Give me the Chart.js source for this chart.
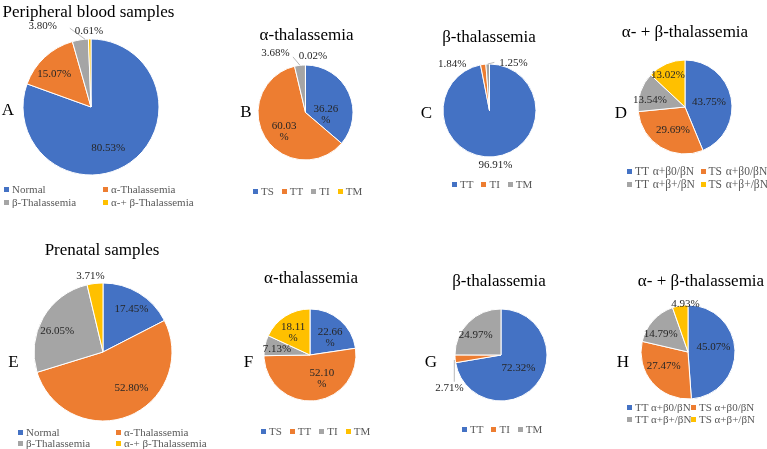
<!DOCTYPE html>
<html>
<head>
<meta charset="utf-8">
<script src="https://cdn.jsdelivr.net/npm/chart.js@4.4.1/dist/chart.umd.min.js"></script>
<style>
  html, body { margin: 0; padding: 0; background: #fff; }
  #fig { position: relative; width: 767px; height: 449px; overflow: hidden;
         font-family: 'Liberation Serif', 'Times New Roman', serif; }
  .box { position: absolute; }
  .title { position: absolute; width: 300px; text-align: center; font-size: 17px;
           line-height: 20px; color: #000; white-space: nowrap; }
  .letter { position: absolute; width: 30px; text-align: center; font-size: 17px;
            line-height: 20px; color: #000; }
  .lg { position: absolute; font-size: 11px; line-height: 13px; color: #595959; white-space: nowrap; }
  .lg .it { position: absolute; white-space: nowrap; }
  .lg .row span.it { position: static; margin-right: 8px; }
  .lg .m { display: inline-block; width: 5px; height: 5px; margin-right: 3px; vertical-align: 1px; }
</style>
</head>
<body>
<div id="fig"></div>
<script>
// categories
var groupLabels = ['Normal', 'α-Thalassemia', 'β-Thalassemia', 'α-+ β-Thalassemia'];
var alphaLabels = ['TS', 'TT', 'TI', 'TM'];
var betaLabels = ['TT', 'TI', 'TM'];
var comboLabels = ['TT α+β0/βN', 'TS α+β0/βN', 'TT α+β+/βN', 'TS α+β+/βN'];

// percentages
var peripheralGroups = [80.53, 15.07, 3.80, 0.61];
var peripheralAlpha = [36.26, 60.03, 3.68, 0.02];
var peripheralBeta = [96.91, 1.84, 1.25];
var peripheralCombo = [43.75, 29.69, 13.54, 13.02];
var prenatalGroups = [17.45, 52.80, 26.05, 3.71];
var prenatalAlpha = [22.66, 52.10, 7.13, 18.11];
var prenatalBeta = [72.32, 2.71, 24.97];
var prenatalCombo = [45.07, 27.47, 14.79, 4.93];

var colors = ['#4472C4', '#ED7D31', '#A5A5A5', '#FFC000'];

// layout of each panel; place = [radius factor, angle shift from slice middle (deg), wrap, leader]
var panels = [
  { letter: 'A', title: 'Peripheral blood samples', labels: groupLabels, data: peripheralGroups,
    cx: 91, cy: 107, r: 68, tx: 88.5, ty: 12, lx: 8, ly: 110,
    legend: { x: 4, y: 189, cols: 2, colW: 99, rowH: 13 },
    place: [[0.65, 12], [0.73, -5], [1.38, -22, false, [[1, 4], [1.2, -6]]], [1.12, -0.5]] },
  { letter: 'B', title: 'α-thalassemia', labels: alphaLabels, data: peripheralAlpha,
    cx: 305.5, cy: 112.5, r: 47.5, tx: 306.5, ty: 35, lx: 246, ly: 112,
    legend: { x: 253, y: 191 },
    place: [[0.43, 30, true], [0.61, -11, true], [1.41, -20, false, [[1, 0], [1.2, -6]]], [1.2, 7.6]] },
  { letter: 'C', title: 'β-thalassemia', labels: betaLabels, data: peripheralBeta,
    cx: 489, cy: 110.5, r: 46.5, tx: 489, ty: 37, lx: 426.5, ly: 113,
    legend: { x: 452, y: 184 },
    place: [[1.18, -0.7], [1.28, -31], [1.14, 29, false, [[1, 0], [1.04, 8]]]] },
  { letter: 'D', title: 'α- + β-thalassemia', labels: comboLabels, data: peripheralCombo,
    cx: 685, cy: 106.5, r: 47, tx: 685, ty: 32, lx: 621, ly: 113,
    legend: { x: 627, y: 171, cols: 2, colW: 73.5, rowH: 13.3, font: 11.5, wordGap: 1 },
    place: [[0.52, 0.6], [0.56, -4], [0.76, -8.3], [0.76, -5]] },
  { letter: 'E', title: 'Prenatal samples', labels: groupLabels, data: prenatalGroups,
    cx: 102.5, cy: 352, r: 69, tx: 102, ty: 250, lx: 13.5, ly: 362,
    legend: { x: 18, y: 432, cols: 2, colW: 98, rowH: 11 },
    place: [[0.75, 2], [0.67, -16], [0.73, -5], [1.12, -2.6]] },
  { letter: 'F', title: 'α-thalassemia', labels: alphaLabels, data: prenatalAlpha,
    cx: 310, cy: 354.5, r: 46, tx: 311, ty: 278, lx: 248.5, ly: 362,
    legend: { x: 261, y: 431 },
    place: [[0.58, 8, true], [0.57, -22, true], [0.73, -2.5], [0.61, -4.4, true]] },
  { letter: 'G', title: 'β-thalassemia', labels: betaLabels, data: prenatalBeta,
    cx: 500.5, cy: 355, r: 46, tx: 499, ty: 281, lx: 431, ly: 362,
    legend: { x: 462, y: 429 },
    place: [[0.47, -3.6], [1.33, -28, false, [[1.02, -1.3], [1.17, -25]]], [0.7, -7]] },
  { letter: 'H', title: 'α- + β-thalassemia', labels: comboLabels, data: prenatalCombo,
    cx: 687.5, cy: 351.5, r: 47, tx: 701, ty: 281, lx: 623, ly: 362,
    legend: { x: 627, y: 407, cols: 2, colW: 64, rowH: 12, font: 11 },
    place: [[0.55, -8], [0.6, 10], [0.7, -8], [1.03, 6.6]] }
];

// percentage labels on or beside each slice
var sliceLabels = {
  id: 'sliceLabels',
  afterDatasetsDraw: function (chart, args, opts) {
    var ctx = chart.ctx;
    var meta = chart.getDatasetMeta(0);
    var values = chart.data.datasets[0].data;
    ctx.save();
    ctx.font = '11px "Liberation Serif", "Times New Roman", serif';
    ctx.fillStyle = '#262626';
    ctx.textAlign = 'center';
    ctx.textBaseline = 'middle';
    meta.data.forEach(function (arc, i) {
      var p = arc.getProps(['x', 'y', 'startAngle', 'endAngle', 'outerRadius'], true);
      var mid = (p.startAngle + p.endAngle) / 2;
      var at = function (f, dA) {
        var a = mid + dA * Math.PI / 180;
        return [p.x + Math.cos(a) * p.outerRadius * f, p.y + Math.sin(a) * p.outerRadius * f];
      };
      var pl = opts.place[i];
      var pos = at(pl[0], pl[1]);
      var txt = values[i].toFixed(2);
      if (pl[2]) {
        ctx.fillText(txt, pos[0], pos[1] - 5.5);
        ctx.fillText('%', pos[0], pos[1] + 5.5);
      } else {
        ctx.fillText(txt + '%', pos[0], pos[1]);
      }
      if (pl[3]) {
        var a0 = at(pl[3][0][0], pl[3][0][1]);
        var a1 = at(pl[3][1][0], pl[3][1][1]);
        ctx.strokeStyle = '#A6A6A6';
        ctx.lineWidth = 0.8;
        ctx.beginPath();
        ctx.moveTo(a0[0], a0[1]);
        ctx.lineTo(a1[0], a1[1]);
        ctx.stroke();
      }
    });
    ctx.restore();
  }
};

var fig = document.getElementById('fig');

function addDiv(cls, html, left, top) {
  var d = document.createElement('div');
  d.className = cls;
  d.innerHTML = html;
  d.style.left = left + 'px';
  d.style.top = top + 'px';
  fig.appendChild(d);
  return d;
}

panels.forEach(function (pn) {
  var S = Math.round(2 * pn.r + 90);
  var box = document.createElement('div');
  box.className = 'box';
  box.style.left = (pn.cx - S / 2) + 'px';
  box.style.top = (pn.cy - S / 2) + 'px';
  box.style.width = S + 'px';
  box.style.height = S + 'px';
  var cv = document.createElement('canvas');
  box.appendChild(cv);
  fig.appendChild(box);

  new Chart(cv, {
    type: 'pie',
    data: {
      labels: pn.labels,
      datasets: [{
        data: pn.data,
        backgroundColor: colors.slice(0, pn.data.length),
        borderColor: '#ffffff',
        borderWidth: 1,
        radius: pn.r
      }]
    },
    options: {
      responsive: true,
      maintainAspectRatio: false,
      animation: false,
      events: [],
      layout: { padding: 0 },
      plugins: {
        legend: { display: false },
        tooltip: { enabled: false },
        sliceLabels: { place: pn.place }
      }
    },
    plugins: [sliceLabels]
  });
});

// titles, panel letters and legends
panels.forEach(function (pn) {
  addDiv('title', pn.title, pn.tx - 150, pn.ty - 10);
  addDiv('letter', pn.letter, pn.lx - 15, pn.ly - 10);

  var lg = pn.legend;
  var el = addDiv('lg', '', lg.x, lg.y - 6.5);
  if (lg.font) el.style.fontSize = lg.font + 'px';
  if (lg.wordGap) el.style.wordSpacing = lg.wordGap + 'px';
  if (lg.cols) {
    pn.labels.forEach(function (lab, i) {
      var it = document.createElement('span');
      it.className = 'it';
      it.style.left = ((i % lg.cols) * lg.colW) + 'px';
      it.style.top = (Math.floor(i / lg.cols) * lg.rowH) + 'px';
      it.innerHTML = '<span class="m" style="background:' + colors[i] + '"></span>' + lab;
      el.appendChild(it);
    });
  } else {
    var row = document.createElement('div');
    row.className = 'row';
    pn.labels.forEach(function (lab, i) {
      var it = document.createElement('span');
      it.className = 'it';
      it.innerHTML = '<span class="m" style="background:' + colors[i] + '"></span>' + lab;
      row.appendChild(it);
    });
    el.appendChild(row);
  }
});
</script>
</body>
</html>
